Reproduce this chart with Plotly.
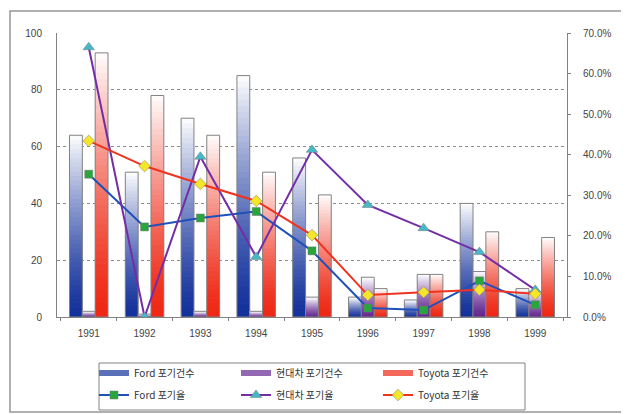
import plotly.graph_objects as go

years = ["1991", "1992", "1993", "1994", "1995", "1996", "1997", "1998", "1999"]

ford_cnt = [64, 51, 70, 85, 56, 7, 6, 40, 10]
hyundai_cnt = [2, 1, 2, 2, 7, 14, 15, 16, 9]
toyota_cnt = [93, 78, 64, 51, 43, 10, 15, 30, 28]

ford_rate = [35.2, 22.2, 24.4, 26.0, 16.3, 2.2, 1.7, 8.9, 3.0]
hyundai_rate = [66.5, 0.0, 39.5, 14.8, 41.2, 27.6, 21.9, 16.0, 6.7]
toyota_rate = [43.4, 37.2, 32.8, 28.6, 20.2, 5.4, 6.1, 6.7, 5.7]

left_ticks = [0, 20, 40, 60, 80, 100]
right_ticks = [0, 10, 20, 30, 40, 50, 60, 70]
right_labels = ["%.1f%%" % v for v in right_ticks]

# page body margin offset (figure is drawn 8px in from the window corner)
OFF = 8
SW, SH = 629, 414           # screenshot size
W, H = SW - OFF, SH - OFF   # figure size
# plot area in screenshot pixels: x 57..567, y 33..317
ML, MT = 57 - OFF, 33 - OFF
MR = SW - 567
MB = SH - 317
PW, PH = W - ML - MR, H - MT - MB


def px_x(x):  # screenshot x -> paper
    return (x - 57) / PW


def px_y(y):  # screenshot y -> paper
    return (317 - y) / PH


fig = go.Figure()

N = 40


def lerp(c, t):
    return "rgb(%d,%d,%d)" % tuple(round(c[i] + (255 - c[i]) * t) for i in range(3))


bar_series = [
    ("Ford 포기건수", ford_cnt, (20, 50, 155), "f"),
    ("현대차 포기건수", hyundai_cnt, (100, 40, 145), "h"),
    ("Toyota 포기건수", toyota_cnt, (238, 40, 20), "t"),
]

legend_pos = [(94, 373), (236, 373), (378, 373), (94, 395), (236, 395), (378, 395)]
leg_font = dict(family="Noto Sans CJK KR, sans-serif", size=10, color="#333")
legends = {}
for i, (lx, ly) in enumerate(legend_pos):
    key = "legend" if i == 0 else "legend%d" % (i + 1)
    legends[key] = dict(xref="container", yref="container", x=(lx - OFF) / W,
                        y=1 - (ly - OFF) / H,
                        xanchor="left", yanchor="middle", font=leg_font,
                        bgcolor="rgba(0,0,0,0)", itemwidth=30, borderwidth=0)
legend_keys = list(legends.keys())

for si, (name, vals, dark, grp) in enumerate(bar_series):
    for k in range(N):
        t = min(1.0, (k / (N - 1)) ** 1.35 * 0.98)
        base = [v * k / N for v in vals]
        hgt = [min(v * 2.0 / N, v - b) for v, b in zip(vals, base)]
        fig.add_trace(go.Bar(
            x=years, y=hgt, base=base,
            offsetgroup=grp, marker=dict(color=lerp(dark, t), line=dict(width=0)),
            showlegend=False, hoverinfo="skip"))
    fig.add_trace(go.Bar(
        x=years, y=vals, offsetgroup=grp,
        marker=dict(color="rgba(0,0,0,0)", line=dict(color="rgb(130,130,130)", width=1)),
        showlegend=False, hoverinfo="skip"))
    # legend-only entry drawn as a flat bar-like swatch
    fig.add_trace(go.Scatter(
        x=[None], y=[None], mode="lines", name=name, legend=legend_keys[si],
        line=dict(color=lerp(dark, 0.3), width=6), hoverinfo="skip"))

line_series = [
    ("Ford 포기율", ford_rate, "rgb(30,80,185)", "square", "rgb(40,165,60)", 8),
    ("현대차 포기율", hyundai_rate, "rgb(115,45,165)", "triangle-up", "rgb(70,185,200)", 10),
    ("Toyota 포기율", toyota_rate, "rgb(240,50,30)", "diamond", "rgb(245,230,40)", 9),
]
for li, (name, vals, lc, sym, mc, ms) in enumerate(line_series):
    fig.add_trace(go.Scatter(
        x=years, y=vals, yaxis="y2", mode="lines+markers", name=name,
        legend=legend_keys[3 + li],
        line=dict(color=lc, width=2),
        marker=dict(symbol=sym, color=mc, size=ms, line=dict(color="rgb(120,120,120)", width=0.5))))

tick_font = dict(family="Liberation Sans, Arial, sans-serif", size=10, color="#444")

fig.update_layout(
    width=W, height=H,
    margin=dict(l=ML, r=MR, t=MT, b=MB, pad=0, autoexpand=False),
    paper_bgcolor="white", plot_bgcolor="white",
    barmode="group", bargap=0.31, bargroupgap=0,
    xaxis=dict(type="category", showline=True, linecolor="rgb(130,130,130)", linewidth=1,
               ticks="outside", ticklen=3, tickcolor="rgb(130,130,130)", tickson="boundaries",
               tickfont=tick_font, showgrid=False, ticklabelstandoff=7, automargin=False),
    yaxis=dict(range=[0, 100], tickvals=left_ticks, showline=True, linecolor="rgb(130,130,130)",
               linewidth=1, showgrid=True, gridcolor="rgb(140,140,140)", griddash="dot",
               gridwidth=1, tickfont=tick_font, ticks="", zeroline=False, ticklabelstandoff=12,
               automargin=False),
    yaxis2=dict(range=[0, 70], tickvals=right_ticks, ticktext=right_labels, overlaying="y",
                side="right", showline=True, linecolor="rgb(130,130,130)",
                linewidth=1, showgrid=False, ticks="outside", ticklen=3,
                tickcolor="rgb(130,130,130)", tickfont=tick_font, zeroline=False,
                ticklabelstandoff=10, automargin=False),
    shapes=[
        dict(type="rect", xref="paper", yref="paper", x0=px_x(10), x1=px_x(627),
             y0=px_y(412), y1=px_y(11), line=dict(color="rgb(150,150,150)", width=1.5),
             fillcolor="rgba(0,0,0,0)", layer="below"),
        dict(type="rect", xref="paper", yref="paper", x0=px_x(99), x1=px_x(525),
             y0=px_y(410), y1=px_y(363), line=dict(color="rgb(130,130,130)", width=1),
             fillcolor="rgba(0,0,0,0)", layer="below"),
    ],
    **legends,
)

fig.write_html("out.html")
